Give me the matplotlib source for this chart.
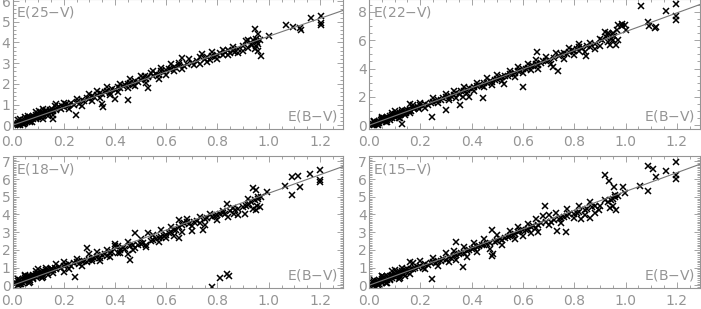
import matplotlib
matplotlib.use("Agg")
import matplotlib.pyplot as plt
from matplotlib.ticker import MultipleLocator

# E(25-V) vs E(B-V)
ebv_25 = [0.01, 0.015, 0.02, 0.02, 0.025, 0.03, 0.03, 0.035, 0.04, 0.04, 0.045, 0.05, 0.05, 0.055, 0.06, 0.06,
          0.065, 0.07, 0.07, 0.075, 0.08, 0.08, 0.085, 0.09, 0.09, 0.095, 0.10, 0.10, 0.105, 0.11, 0.11, 0.115,
          0.12, 0.12, 0.125, 0.13, 0.135, 0.14, 0.145, 0.15, 0.155, 0.159, 0.16, 0.165, 0.17, 0.175, 0.18, 0.19,
          0.195, 0.2, 0.21, 0.215, 0.22, 0.23, 0.24, 0.247, 0.25, 0.26, 0.27, 0.28, 0.29, 0.3, 0.31, 0.32,
          0.33, 0.34, 0.35, 0.355, 0.35, 0.36, 0.37, 0.38, 0.39, 0.40, 0.40, 0.41, 0.42, 0.43, 0.44, 0.452,
          0.45, 0.46, 0.47, 0.48, 0.49, 0.50, 0.51, 0.518, 0.528, 0.52, 0.53, 0.54, 0.55, 0.56, 0.57, 0.58,
          0.59, 0.60, 0.61, 0.62, 0.63, 0.64, 0.65, 0.66, 0.67, 0.68, 0.70, 0.72, 0.73, 0.74, 0.75, 0.76,
          0.77, 0.78, 0.79, 0.80, 0.81, 0.82, 0.83, 0.84, 0.85, 0.86, 0.87, 0.88, 0.90, 0.91, 0.92, 0.93,
          0.935, 0.94, 0.945, 0.948, 0.95, 0.955, 0.959, 0.96, 0.965, 0.97, 1.0, 1.067, 1.096, 1.124, 1.127,
          1.166, 1.204, 1.204, 1.204,
          0.05, 0.07, 0.09, 0.12, 0.13, 0.16, 0.17, 0.2, 0.22, 0.25, 0.27, 0.3, 0.31, 0.33, 0.34, 0.37,
          0.38, 0.41, 0.42, 0.45, 0.46, 0.48, 0.5, 0.52, 0.55, 0.57, 0.58, 0.6, 0.62, 0.63, 0.65, 0.66,
          0.69, 0.71, 0.73, 0.76, 0.78, 0.8, 0.82, 0.84, 0.86, 0.88, 0.9, 0.92, 0.95, 0.96,
          0.02, 0.03, 0.045, 0.06, 0.075, 0.09, 0.105, 0.12, 0.14]
e25 = [0.02, 0.08, 0.0, 0.12, 0.05, 0.15, 0.02, 0.1, 0.22, 0.08, 0.18, 0.25, 0.12, 0.3, 0.2, 0.35,
       0.28, 0.4, 0.22, 0.33, 0.45, 0.3, 0.38, 0.5, 0.35, 0.42, 0.55, 0.4, 0.47, 0.6, 0.42, 0.52,
       0.58, 0.45, 0.62, 0.55, 0.66, 0.6, 0.72, 0.65, 0.78, 0.29, 0.68, 0.95, 0.75, 0.82, 0.88, 0.8,
       0.92, 0.86, 1.05, 0.95, 1.0, 1.1, 1.0, 0.49, 1.12, 1.05, 1.2, 1.15, 1.3, 1.25, 1.4, 1.35,
       1.45, 1.55, 1.02, 0.86, 1.5, 1.6, 1.65, 1.55, 1.75, 1.29, 1.7, 1.85, 1.78, 1.9, 1.95, 1.24,
       2.0, 2.05, 1.95, 2.15, 2.1, 2.2, 2.3, 2.38, 1.79, 2.25, 2.35, 2.52, 2.4, 2.5, 2.45, 2.6,
       2.55, 2.65, 2.7, 2.72, 2.8, 2.75, 2.9, 3.24, 2.85, 2.95, 3.0, 3.1, 2.95, 3.43, 3.2, 3.3,
       3.15, 3.35, 3.3, 3.4, 3.5, 3.4, 3.55, 3.65, 3.5, 3.6, 3.55, 3.7, 3.85, 4.05, 3.75, 3.95,
       3.9, 4.1, 3.7, 4.63, 3.85, 4.0, 4.43, 3.6, 4.12, 3.35, 4.3, 4.84, 4.76, 4.7, 4.59,
       5.17, 5.27, 4.94, 4.86,
       0.4, 0.15, 0.62, 0.3, 0.75, 0.52, 1.02, 1.1, 0.8, 1.25, 0.95, 1.5, 1.15, 1.65, 1.3, 1.85,
       1.45, 1.6, 2.0, 1.8, 2.25, 1.9, 2.4, 2.05, 2.6, 2.25, 2.75, 2.45, 2.95, 2.6, 3.0, 2.7,
       3.2, 2.9, 3.3, 3.05, 3.55, 3.2, 3.65, 3.4, 3.8, 3.5, 3.6, 4.1, 4.15, 3.95,
       0.25, 0.32, 0.05, 0.45, 0.15, 0.3, 0.7, 0.8, 0.45]

# E(22-V) vs E(B-V)
ebv_22 = [0.01, 0.015, 0.02, 0.02, 0.025, 0.03, 0.03, 0.035, 0.04, 0.04, 0.045, 0.05, 0.05, 0.055, 0.06, 0.06,
          0.065, 0.07, 0.07, 0.075, 0.08, 0.08, 0.085, 0.09, 0.09, 0.095, 0.10, 0.10, 0.105, 0.11, 0.11, 0.115,
          0.12, 0.12, 0.125, 0.128, 0.13, 0.135, 0.14, 0.145, 0.15, 0.155, 0.16, 0.16, 0.165, 0.17, 0.175, 0.18,
          0.19, 0.195, 0.2, 0.21, 0.22, 0.23, 0.24, 0.245, 0.25, 0.26, 0.27, 0.28, 0.29, 0.3, 0.3, 0.31,
          0.32, 0.33, 0.34, 0.35, 0.356, 0.36, 0.367, 0.37, 0.38, 0.39, 0.39, 0.40, 0.41, 0.42, 0.43, 0.44,
          0.444, 0.45, 0.46, 0.47, 0.48, 0.49, 0.50, 0.51, 0.52, 0.527, 0.53, 0.54, 0.55, 0.56, 0.57, 0.58,
          0.59, 0.6, 0.6, 0.61, 0.62, 0.63, 0.64, 0.65, 0.655, 0.66, 0.67, 0.68, 0.69, 0.70, 0.718, 0.72,
          0.735, 0.74, 0.75, 0.76, 0.77, 0.78, 0.79, 0.80, 0.81, 0.818, 0.82, 0.83, 0.844, 0.85, 0.86, 0.88,
          0.9, 0.91, 0.92, 0.925, 0.93, 0.935, 0.94, 0.945, 0.95, 0.955, 0.963, 0.965, 0.97, 0.985, 0.986,
          0.996, 1.0, 1.06, 1.087, 1.09, 1.113, 1.12, 1.158, 1.196, 1.196, 1.196,
          0.05, 0.07, 0.09, 0.12, 0.13, 0.16, 0.17, 0.2, 0.22, 0.25, 0.27, 0.3, 0.31, 0.33, 0.34, 0.37,
          0.38, 0.41, 0.42, 0.45, 0.46, 0.48, 0.5, 0.52, 0.55, 0.57, 0.58, 0.6, 0.62, 0.63, 0.65, 0.66,
          0.69, 0.71, 0.73, 0.76, 0.78, 0.8, 0.82, 0.84, 0.86, 0.88, 0.9, 0.93, 0.95, 0.97,
          0.02, 0.035, 0.05, 0.065, 0.08, 0.1, 0.115, 0.14]
e22 = [0.0, 0.1, 0.05, 0.2, 0.12, 0.25, 0.08, 0.18, 0.3, 0.15, 0.35, 0.28, 0.45, 0.38, 0.5, 0.32,
       0.45, 0.6, 0.4, 0.52, 0.65, 0.48, 0.58, 0.72, 0.55, 0.65, 0.78, 0.6, 0.7, 0.85, 0.68, 0.75,
       0.9, 0.72, 0.82, 0.07, 0.95, 0.85, 1.0, 0.9, 1.05, 0.98, 1.5, 1.1, 1.02, 1.2, 1.12, 1.25,
       1.3, 1.18, 1.4, 1.35, 1.5, 1.45, 1.6, 0.56, 1.65, 1.7, 1.8, 1.75, 1.9, 1.07, 2.0, 1.95,
       2.1, 2.15, 2.25, 2.2, 1.41, 2.4, 2.02, 2.45, 2.5, 2.02, 2.6, 2.55, 2.7, 2.75, 2.85, 2.8,
       1.93, 2.95, 3.0, 3.1, 3.05, 3.2, 3.25, 3.32, 3.4, 2.88, 3.45, 3.5, 3.6, 3.65, 3.7, 3.8,
       3.85, 2.71, 3.95, 4.0, 4.05, 4.15, 4.2, 4.3, 5.15, 4.25, 4.4, 4.5, 4.55, 4.6, 4.1, 4.75,
       3.85, 4.9, 5.0, 5.1, 5.0, 5.2, 5.3, 5.25, 5.4, 5.27, 5.5, 5.45, 4.9, 5.6, 5.55, 5.75,
       5.56, 6.0, 6.61, 6.2, 5.9, 6.4, 5.68, 6.1, 6.5, 6.3, 5.68, 6.7, 6.0, 7.12, 6.98,
       7.1, 6.73, 8.44, 7.27, 7.02, 6.85, 6.9, 8.07, 8.56, 7.7, 7.41,
       0.6, 0.25, 0.85, 0.55, 1.1, 0.85, 1.4, 1.6, 1.2, 1.9, 1.55, 2.2, 1.8, 2.4, 1.95, 2.7,
       2.25, 2.45, 3.0, 2.7, 3.3, 2.85, 3.55, 3.1, 3.85, 3.4, 4.1, 3.7, 4.35, 3.9, 4.6, 4.0,
       4.8, 4.3, 5.1, 4.7, 5.45, 4.95, 5.7, 5.2, 5.8, 5.4, 6.1, 6.5, 6.0, 7.05,
       0.3, 0.05, 0.5, 0.2, 0.35, 1.0, 0.5, 0.7]

# E(18-V) vs E(B-V)
ebv_18 = [0.01, 0.015, 0.02, 0.02, 0.025, 0.03, 0.03, 0.035, 0.04, 0.04, 0.045, 0.05, 0.05, 0.055, 0.06, 0.06,
          0.065, 0.07, 0.07, 0.075, 0.08, 0.08, 0.085, 0.09, 0.09, 0.095, 0.10, 0.10, 0.105, 0.11, 0.11, 0.115,
          0.12, 0.12, 0.125, 0.13, 0.135, 0.14, 0.145, 0.15, 0.155, 0.16, 0.165, 0.17, 0.18, 0.19, 0.2, 0.2,
          0.21, 0.22, 0.23, 0.24, 0.245, 0.25, 0.26, 0.27, 0.28, 0.29, 0.29, 0.3, 0.31, 0.32, 0.33, 0.34,
          0.35, 0.36, 0.37, 0.38, 0.39, 0.4, 0.4, 0.41, 0.42, 0.43, 0.44, 0.45, 0.46, 0.46, 0.47, 0.48,
          0.48, 0.49, 0.5, 0.51, 0.52, 0.53, 0.54, 0.55, 0.56, 0.57, 0.58, 0.59, 0.6, 0.61, 0.62, 0.63,
          0.64, 0.65, 0.65, 0.66, 0.67, 0.68, 0.69, 0.7, 0.71, 0.72, 0.73, 0.745, 0.75, 0.76, 0.778, 0.78,
          0.79, 0.8, 0.81, 0.81, 0.82, 0.83, 0.837, 0.838, 0.846, 0.85, 0.863, 0.87, 0.88, 0.9, 0.907, 0.91,
          0.92, 0.925, 0.93, 0.94, 0.94, 0.945, 0.95, 0.955, 0.96, 0.965, 0.97, 0.995, 1.062, 1.09, 1.09,
          1.116, 1.122, 1.161, 1.2, 1.2, 1.2,
          0.05, 0.07, 0.09, 0.12, 0.13, 0.16, 0.17, 0.2, 0.22, 0.25, 0.27, 0.3, 0.31, 0.33, 0.34, 0.37,
          0.38, 0.41, 0.42, 0.45, 0.47, 0.5, 0.52, 0.55, 0.57, 0.58, 0.6, 0.62, 0.63, 0.65, 0.66, 0.68,
          0.7, 0.73, 0.75, 0.77, 0.8, 0.82, 0.84, 0.86, 0.88, 0.92, 0.95, 0.96,
          0.02, 0.035, 0.05, 0.065, 0.08, 0.1, 0.115, 0.14]
e18 = [0.05, 0.15, 0.0, 0.25, 0.1, 0.3, 0.05, 0.2, 0.35, 0.12, 0.28, 0.4, 0.2, 0.45, 0.3, 0.5,
       0.38, 0.55, 0.3, 0.48, 0.6, 0.4, 0.55, 0.65, 0.45, 0.6, 0.7, 0.5, 0.65, 0.75, 0.55, 0.72,
       0.8, 0.6, 0.78, 0.85, 0.7, 0.88, 0.8, 0.92, 0.95, 0.85, 1.0, 0.9, 1.05, 1.0, 1.1, 0.77,
       1.15, 1.2, 1.1, 1.25, 0.46, 1.3, 1.2, 1.35, 1.4, 2.11, 1.3, 1.45, 1.5, 1.55, 1.6, 1.55,
       1.7, 1.75, 1.65, 1.8, 1.9, 2.2, 2.34, 1.85, 2.0, 2.1, 2.05, 1.78, 1.43, 2.2, 2.25, 2.98,
       2.1, 2.3, 2.35, 2.4, 2.3, 2.94, 2.5, 2.55, 2.6, 2.7, 2.75, 2.8, 2.85, 2.95, 3.0, 3.1,
       3.15, 2.65, 3.3, 3.4, 3.5, 3.55, 3.45, 3.05, 3.6, 3.65, 3.5, 3.1, 3.75, 3.8, -0.1, 3.85,
       3.9, 3.95, 0.39, 4.0, 4.1, 4.05, 0.66, 4.6, 0.52, 4.2, 4.0, 4.25, 4.3, 4.4, 4.04, 4.5,
       4.87, 4.6, 4.7, 5.5, 4.3, 4.8, 5.4, 4.5, 4.9, 4.4, 5.0, 5.26, 5.6, 6.13, 5.1,
       6.19, 5.55, 6.27, 6.52, 5.94, 5.84,
       0.55, 0.2, 0.8, 0.45, 1.0, 0.7, 1.2, 1.3, 0.95, 1.5, 1.1, 1.75, 1.35, 1.9, 1.4, 2.0,
       1.6, 2.2, 1.8, 2.45, 2.0, 2.6, 2.15, 2.85, 2.45, 3.1, 2.65, 3.3, 2.8, 3.7, 3.0, 3.75,
       3.35, 3.85, 3.4, 4.05, 3.7, 4.2, 3.85, 4.35, 3.95, 4.55, 4.25, 5.0,
       0.35, 0.05, 0.6, 0.15, 0.35, 0.9, 0.4, 0.6]

# E(15-V) vs E(B-V)
ebv_15 = [0.01, 0.015, 0.02, 0.02, 0.025, 0.03, 0.03, 0.035, 0.04, 0.04, 0.045, 0.05, 0.05, 0.055, 0.06, 0.06,
          0.065, 0.07, 0.07, 0.075, 0.08, 0.08, 0.085, 0.09, 0.09, 0.095, 0.10, 0.10, 0.105, 0.11, 0.11, 0.115,
          0.12, 0.12, 0.125, 0.13, 0.135, 0.14, 0.145, 0.15, 0.155, 0.16, 0.165, 0.17, 0.18, 0.19, 0.2, 0.21,
          0.22, 0.23, 0.24, 0.244, 0.25, 0.26, 0.27, 0.28, 0.29, 0.3, 0.31, 0.32, 0.33, 0.34, 0.341, 0.35,
          0.36, 0.365, 0.37, 0.38, 0.39, 0.4, 0.41, 0.42, 0.43, 0.44, 0.45, 0.46, 0.47, 0.478, 0.478, 0.485,
          0.49, 0.5, 0.51, 0.52, 0.53, 0.54, 0.55, 0.56, 0.57, 0.58, 0.59, 0.6, 0.61, 0.62, 0.63, 0.64,
          0.652, 0.66, 0.67, 0.687, 0.69, 0.702, 0.71, 0.72, 0.732, 0.74, 0.75, 0.76, 0.767, 0.77, 0.78, 0.8,
          0.81, 0.82, 0.828, 0.84, 0.85, 0.86, 0.87, 0.88, 0.897, 0.9, 0.92, 0.93, 0.934, 0.94, 0.945, 0.95,
          0.953, 0.96, 0.963, 0.97, 0.99, 0.997, 1.055, 1.087, 1.087, 1.106, 1.119, 1.158, 1.196, 1.196, 1.196,
          0.05, 0.07, 0.09, 0.12, 0.13, 0.16, 0.17, 0.2, 0.22, 0.25, 0.27, 0.3, 0.31, 0.33, 0.34, 0.37,
          0.38, 0.41, 0.42, 0.45, 0.47, 0.5, 0.52, 0.55, 0.57, 0.58, 0.6, 0.62, 0.63, 0.65, 0.66, 0.68,
          0.7, 0.73, 0.75, 0.77, 0.8, 0.82, 0.84, 0.86, 0.88, 0.92, 0.95, 0.96,
          0.02, 0.035, 0.05, 0.065, 0.08, 0.1, 0.115, 0.14]
e15 = [0.02, 0.12, 0.0, 0.2, 0.08, 0.25, 0.05, 0.18, 0.3, 0.1, 0.25, 0.35, 0.15, 0.4, 0.25, 0.45,
       0.32, 0.5, 0.28, 0.42, 0.55, 0.35, 0.5, 0.6, 0.4, 0.55, 0.65, 0.48, 0.6, 0.7, 0.5, 0.68,
       0.75, 0.55, 0.72, 0.8, 0.65, 0.85, 0.75, 0.9, 0.88, 1.31, 0.95, 0.9, 1.0, 1.05, 1.1, 1.0,
       1.2, 1.15, 1.25, 0.35, 1.3, 1.25, 1.4, 1.35, 1.5, 1.45, 1.6, 1.55, 1.65, 1.7, 2.42, 1.75,
       1.8, 1.06, 1.85, 1.95, 2.0, 2.05, 2.1, 2.15, 2.2, 2.3, 2.25, 2.35, 2.4, 3.13, 1.65, 1.78,
       2.45, 2.5, 2.6, 2.55, 2.7, 2.75, 2.8, 2.85, 2.9, 3.0, 3.05, 3.1, 3.15, 3.2, 3.3, 3.35,
       3.22, 3.4, 3.5, 4.47, 3.55, 3.99, 3.6, 3.7, 3.09, 3.75, 3.8, 3.85, 3.01, 3.9, 4.0, 4.05,
       4.1, 4.15, 3.76, 4.25, 4.3, 3.8, 4.4, 4.45, 4.28, 4.5, 6.24, 4.7, 5.91, 4.38, 4.8, 4.9,
       5.53, 5.0, 4.28, 5.05, 5.53, 5.2, 5.62, 6.72, 5.34, 6.58, 6.1, 6.45, 6.97, 6.24, 6.0,
       0.5, 0.15, 0.8, 0.4, 1.0, 0.65, 1.25, 1.35, 0.9, 1.55, 1.1, 1.8, 1.3, 1.95, 1.45, 2.15,
       1.6, 2.4, 1.9, 2.6, 2.05, 2.85, 2.3, 3.05, 2.6, 3.3, 2.8, 3.45, 2.95, 3.75, 3.0, 3.9,
       3.4, 4.1, 3.5, 4.3, 3.8, 4.5, 3.95, 4.7, 4.1, 4.8, 4.5, 5.1,
       0.3, 0.02, 0.55, 0.12, 0.3, 0.85, 0.35, 0.55]

panels = [
    (ebv_25, e25, "E(25$-$V)", 4.30, (-0.18, 6.1), 1, 0.2),
    (ebv_22, e22, "E(22$-$V)", 6.60, (-0.26, 8.9), 2, 0.5),
    (ebv_18, e18, "E(18$-$V)", 5.20, (-0.15, 7.3), 1, 0.1),
    (ebv_15, e15, "E(15$-$V)", 5.30, (-0.15, 7.3), 1, 0.1),
]

GRAY = "#959595"
W, H = 701, 309
# axes boxes in pixels: (left, top, right, bottom)
boxes = [(12.5, -1, 343, 129), (369, -1, 700, 129), (12.5, 156, 343, 288), (369, 156, 700, 288)]

fig = plt.figure(figsize=(W / 100, H / 100), dpi=100)
for (x, y, label, slope, ylim, ymaj, ymin), (l, t, r, b) in zip(panels, boxes):
    ax = fig.add_axes([l / W, 1 - b / H, (r - l) / W, (b - t) / H])
    ax.plot(x, y, linestyle="none", marker="x", ms=3.8, mew=1.1, color="black")
    ax.plot([0, 1.3], [0, 1.3 * slope], color="#777777", lw=0.8)
    ax.set_xlim(0, 1.29)
    ax.set_ylim(*ylim)
    ax.xaxis.set_major_locator(MultipleLocator(0.2))
    ax.xaxis.set_minor_locator(MultipleLocator(0.05))
    ax.yaxis.set_major_locator(MultipleLocator(ymaj))
    ax.yaxis.set_minor_locator(MultipleLocator(ymin))
    ax.xaxis.set_major_formatter(plt.FormatStrFormatter("%.1f"))
    ax.tick_params(which="both", direction="in", top=True, right=True, color=GRAY,
                   labelcolor=GRAY, labelsize=10, width=0.6)
    ax.tick_params(which="major", length=4)
    ax.tick_params(which="minor", length=2)
    ax.tick_params(axis="x", pad=4)
    ax.tick_params(axis="y", pad=1.5)
    for s in ax.spines.values():
        s.set_color(GRAY)
        s.set_linewidth(0.8)
    ax.text(0.012, 0.96, label, transform=ax.transAxes, ha="left", va="top",
            color=GRAY, fontsize=10)
    ax.text(0.985, 0.04, "E(B$-$V)", transform=ax.transAxes, ha="right", va="bottom",
            color=GRAY, fontsize=10)

fig.savefig("out.png", dpi=100)
